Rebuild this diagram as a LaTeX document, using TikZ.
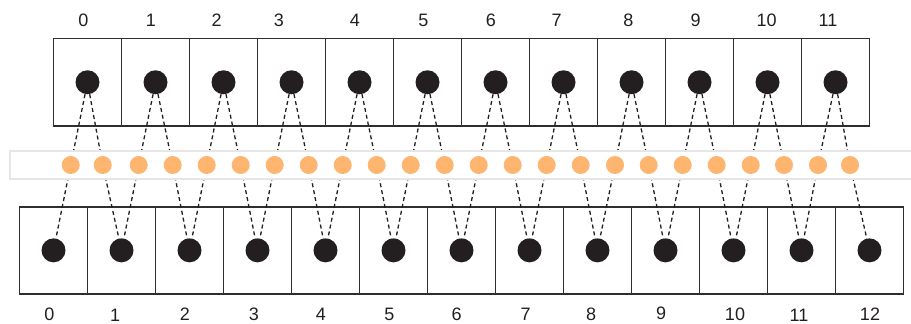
\documentclass[tikz,border=0pt]{standalone}
\usepackage{fontspec}
\setmainfont{Liberation Sans}
\definecolor{ink}{HTML}{231F20}
\definecolor{boxline}{HTML}{2E2E2E}
\definecolor{beadc}{HTML}{FDB56F}
\definecolor{railc}{HTML}{E6E6E6}
\begin{document}
\begin{tikzpicture}[x=1pt,y=-1pt,
  cell/.style={draw=boxline,line width=1.9pt,minimum width=68pt,minimum height=87.5pt,inner sep=0pt,outer sep=0pt},
  pin/.style={circle,fill=ink,minimum size=24pt,inner sep=0pt},
  bead/.style={circle,fill=beadc,minimum size=18pt,inner sep=0pt},
  link/.style={draw=ink,line width=1.3pt,dash pattern=on 4pt off 3pt},
  idx/.style={inner sep=0pt,text=ink,font=\fontsize{18}{20}\selectfont}]
\useasboundingbox (0,0) rectangle (911,324);

% upper row of 12 cells and lower row of 13 cells
\foreach \i in {0,...,11}
  \node[cell] (tc\i) at ({87.5+68*\i},82.25) {};
\foreach \j in {0,...,12}
  \node[cell,minimum height=87.3pt] (bc\j) at ({53.5+68*\j},250.35) {};

% black pins in the cells
\foreach \i in {0,...,11}
  \node[pin] (t\i) at (tc\i.center) {};
\foreach \j in {0,...,12}
  \node[pin] (b\j) at (bc\j.center) {};

% bead positions on the rail
\foreach \x [count=\k from 0] in {70.7,102.7,138.7,172.7,206.7,240.7,274.7,308.7,
    342.7,376.7,410.7,444.7,478.7,512.7,546.7,580.7,615,648.7,682.7,716.7,750.7,784,818,850}
  \coordinate (p\k) at (\x,165);

% dashed links: upper pin -> bead -> lower pin
\foreach \i in {0,...,11}{
  \pgfmathtruncatemacro\a{2*\i}
  \pgfmathtruncatemacro\b{2*\i+1}
  \pgfmathtruncatemacro\n{\i+1}
  \draw[link] (t\i) -- (p\a) -- (b\i);
  \draw[link] (t\i) -- (p\b) -- (b\n);
}

% rail band covering the middle of the links
\draw[draw=railc,line width=2pt,fill=white] (9.5,151) rectangle (916,178.5);

% beads
\foreach \k in {0,...,23}
  \node[bead] (o\k) at (p\k) {};

% indices above the upper row
\foreach \x [count=\k from 0] in {83.5,151,216.7,279,355,423.3,491,556.7,628.3,695.7,766.7,828}
  \node[idx] (tl\k) at (\x,20) {\k};
% indices below the lower row
\foreach \x/\y [count=\k from 0] in {49.3/314.5,115.2/315.3,185/314.5,254/314.5,321/314.5,389.3/314.5,
    456.7/314.5,525.7/314.5,591/314.5,661/313.8,735/314.5,799/315,870/313.8}
  \node[idx] (bl\k) at (\x,\y) {\k};
\end{tikzpicture}
\end{document}
